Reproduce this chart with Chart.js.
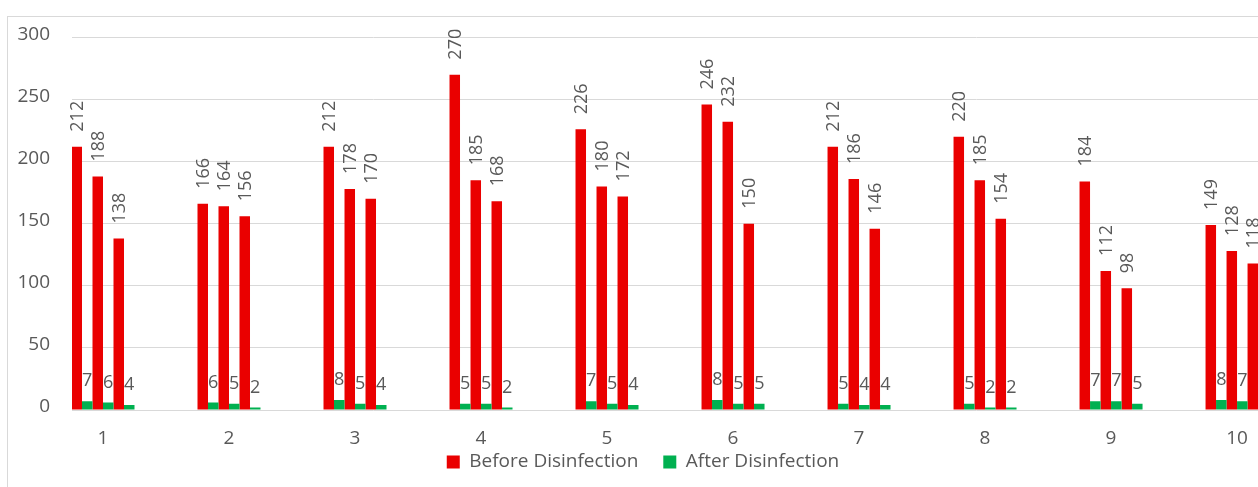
<!DOCTYPE html>
<html>
<head>
<meta charset="utf-8">
<script src="https://cdn.jsdelivr.net/npm/chart.js@4.4.1/dist/chart.umd.min.js"></script>
<style>
  html, body { margin: 0; padding: 0; background: #fff; overflow: hidden; }
  #frame { position: absolute; left: 7px; top: 16px; width: 1260px; height: 480px; border-left: 1px solid #d9d9d9; border-top: 1px solid #d9d9d9; }
  #myChart { position: absolute; left: 8px; top: 4px; display: block; }
</style>
</head>
<body>
<div id="frame"></div>
<canvas id="myChart" width="1270" height="483"></canvas>
<script>
// sample numbers along the x axis
var categories = [1, 2, 3, 4, 5, 6, 7, 8, 9, 10];

// three readings per sample, before and after disinfection
var before1 = [212, 166, 212, 270, 226, 246, 212, 220, 184, 149];
var before2 = [188, 164, 178, 185, 180, 232, 186, 185, 112, 128];
var before3 = [138, 156, 170, 168, 172, 150, 146, 154, 98, 118];
var after1 = [7, 6, 8, 5, 7, 8, 5, 5, 7, 8];
var after2 = [6, 5, 5, 5, 5, 5, 4, 2, 7, 7];
var after3 = [4, 2, 4, 2, 4, 5, 4, 2, 5, 6];

var yTicks = [0, 50, 100, 150, 200, 250, 300];
var seriesNames = ['Before Disinfection', 'After Disinfection'];

var red = '#ea0000';
var green = '#00b050';
var textGrey = '#595959';
var fontFamily = '"Open Sans", "Noto Sans", sans-serif';

function barSet(data, isBefore) {
  return {
    label: isBefore ? seriesNames[0] : seriesNames[1],
    data: data,
    isBefore: isBefore,
    backgroundColor: isBefore ? red : green,
    borderWidth: 0
  };
}

// value labels: rotated above the red bars, upright above the green ones
var valueLabels = {
  id: 'valueLabels',
  afterDatasetsDraw: function(chart) {
    var ctx = chart.ctx;
    ctx.save();
    ctx.fillStyle = textGrey;
    ctx.font = '18px ' + fontFamily;
    chart.data.datasets.forEach(function(ds, i) {
      var meta = chart.getDatasetMeta(i);
      meta.data.forEach(function(bar, j) {
        var v = String(ds.data[j]);
        if (ds.isBefore) {
          ctx.save();
          ctx.translate(bar.x, bar.y - 15);
          ctx.rotate(-Math.PI / 2);
          ctx.textAlign = 'left';
          ctx.textBaseline = 'middle';
          ctx.fillText(v, 0, 1);
          ctx.restore();
        } else {
          ctx.textAlign = 'center';
          ctx.textBaseline = 'alphabetic';
          ctx.fillText(v, bar.x, bar.y - 15);
        }
      });
    });
    ctx.restore();
  }
};

// pull the legend up closer to the axis labels, keeping wide item spacing
var legendLift = {
  id: 'legendLift',
  afterLayout: function(chart) {
    if (chart.legend) {
      chart.legend.top -= 22.5;
      chart.legend.bottom -= 22.5;
    }
  }
};

var ctx = document.getElementById('myChart').getContext('2d');
var chart = new Chart(ctx, {
  type: 'bar',
  data: {
    labels: categories,
    datasets: [
      barSet(before1, true), barSet(after1, false),
      barSet(before2, true), barSet(after2, false),
      barSet(before3, true), barSet(after3, false)
    ]
  },
  plugins: [valueLabels, legendLift],
  options: {
    responsive: false,
    animation: false,
    categoryPercentage: 0.5,
    barPercentage: 1.0,
    layout: { padding: { top: 7, bottom: -17, left: 0, right: 0 } },
    plugins: {
      tooltip: { enabled: false },
      legend: {
        position: 'bottom',
        labels: {
          boxWidth: 13,
          boxHeight: 13,
          padding: 25,
          color: textGrey,
          font: { size: 19, family: fontFamily },
          filter: function(item) { return item.datasetIndex < 2; }
        }
      }
    },
    scales: {
      x: {
        type: 'linear',
        offset: false,
        min: 0.754,
        max: 10.325,
        grid: { display: false, drawTicks: false, offset: false },
        border: { display: false },
        ticks: {
          stepSize: 1,
          includeBounds: false,
          padding: 17,
          color: textGrey,
          font: { size: 19, family: fontFamily }
        },
        afterFit: function(scale) { scale.height = 40; }
      },
      y: {
        min: 0,
        max: 300,
        afterBuildTicks: function(scale) {
          scale.ticks = yTicks.map(function(v) { return { value: v }; });
        },
        grid: { color: '#d9d9d9', drawTicks: false },
        border: { display: false },
        ticks: {
          padding: 22,
          labelOffset: -3,
          color: textGrey,
          font: { size: 19, family: fontFamily }
        },
        afterFit: function(scale) { scale.width = 64; }
      }
    }
  }
});
</script>
</body>
</html>
